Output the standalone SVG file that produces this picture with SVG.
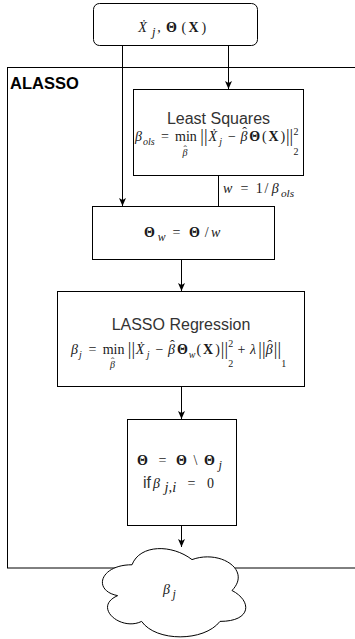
<svg xmlns="http://www.w3.org/2000/svg" width="355" height="639" viewBox="0 0 355 639">
<style>
.box{fill:#fff;stroke:#000;stroke-width:1}
.cont{fill:none;stroke:#000;stroke-width:1}
.edge{stroke:#000;stroke-width:1;fill:none}
.m{font-family:"Liberation Serif","DejaVu Serif",serif;fill:#1a1a1a;font-size:14px}
.i{font-style:italic}
.b{font-weight:bold}
.s{font-size:10px}
.dl{font-size:18px;font-weight:normal;font-style:normal}
.lbl{font-family:"Liberation Sans",Arial,sans-serif;fill:#333;font-size:16px}
</style>
<defs>
<marker id="arr" markerUnits="userSpaceOnUse" markerWidth="8" markerHeight="8" refX="8" refY="4" orient="auto" viewBox="0 0 8 8">
<path d="M0,0.5 L8,4 L0,7.5 L2,4 Z" fill="#000"/>
</marker>
</defs>

<g id="alasso">
<rect class="cont" x="7.5" y="67.5" width="360" height="500.5"/>
<text x="10" y="89" font-family="Liberation Sans,Arial,sans-serif" font-weight="bold" font-size="16.5" fill="#000">ALASSO</text>
</g>

<g id="connectors">
<line class="edge" x1="228.5" y1="45.5" x2="228.5" y2="89" marker-end="url(#arr)"/>
<line class="edge" x1="122.5" y1="45.5" x2="122.5" y2="206" marker-end="url(#arr)"/>
<line class="edge" x1="218.5" y1="175.5" x2="218.5" y2="206.5"/>
<line class="edge" x1="181.5" y1="259.5" x2="181.5" y2="291" marker-end="url(#arr)"/>
<line class="edge" x1="181.5" y1="386.5" x2="181.5" y2="419" marker-end="url(#arr)"/>
<line class="edge" x1="181.5" y1="525.5" x2="181.5" y2="547" marker-end="url(#arr)"/>
<text class="m" font-size="16"><tspan class="i" x="223" y="193">w</tspan><tspan x="240.6" y="193">=</tspan><tspan x="255.8" y="193">1</tspan><tspan x="264.5" y="193">/</tspan><tspan class="i" x="271.8" y="193">β</tspan><tspan class="i" x="280.9" y="196.5" font-size="11.3">ols</tspan></text>
</g>

<g id="input">
<rect class="box" x="93.5" y="3.5" width="164" height="42" rx="6"/>
<text class="m" font-size="17.5"><tspan class="i" x="138.2" y="32">Ẋ</tspan><tspan class="i" x="152.1" y="36" font-size="12.5">j</tspan><tspan x="157.2" y="32">,</tspan><tspan class="b" x="166.1" y="32">Θ</tspan><tspan x="181.5" y="32">(</tspan><tspan class="b" x="188.5" y="32">X</tspan><tspan x="201.5" y="32">)</tspan></text>
</g>

<g id="least-squares">
<rect class="box" x="133.5" y="89.5" width="170" height="86"/>
<text class="lbl" x="218.5" y="123.5" text-anchor="middle">Least Squares</text>
<text class="m"><tspan class="i" x="135" y="141">β</tspan><tspan class="i s" x="143" y="144.5">ols</tspan><tspan x="160.9" y="141">=</tspan><tspan x="175.1" y="141">min</tspan><tspan class="i s" x="182.5" y="156">β</tspan><tspan class="s" x="183.5" y="152.8">ˆ</tspan><tspan class="dl" x="200.3" y="142">||</tspan><tspan class="i" x="208.5" y="141">Ẋ</tspan><tspan class="i s" x="219.2" y="144.5">j</tspan><tspan x="227.9" y="141">−</tspan><tspan class="i" x="240.5" y="141">β</tspan><tspan x="242.3" y="136.5">ˆ</tspan><tspan class="b" x="249.3" y="141">Θ</tspan><tspan x="261.9" y="141">(</tspan><tspan class="b" x="268.4" y="141">X</tspan><tspan x="280.5" y="141">)</tspan><tspan class="dl" x="286" y="142">||</tspan><tspan class="s" x="293.5" y="135">2</tspan><tspan class="s" x="293.5" y="155">2</tspan></text>
</g>

<g id="theta-w">
<rect class="box" x="92.5" y="206.5" width="182" height="53"/>
<text class="m" font-size="16.5"><tspan class="b" x="144" y="237">Θ</tspan><tspan class="i" x="157.75" y="240.5" font-size="11.7">w</tspan><tspan x="172.5" y="237">=</tspan><tspan class="b" x="189.1" y="237">Θ</tspan><tspan x="204.7" y="237">/</tspan><tspan class="i" x="211.1" y="237">w</tspan></text>
</g>

<g id="lasso">
<rect class="box" x="57.5" y="291.5" width="247" height="95"/>
<text class="lbl" x="181" y="330" text-anchor="middle">LASSO Regression</text>
<text class="m"><tspan class="i" x="71" y="354">β</tspan><tspan class="i s" x="79" y="357.5">j</tspan><tspan x="88.5" y="354">=</tspan><tspan x="102.7" y="354">min</tspan><tspan class="i s" x="110" y="368">β</tspan><tspan class="s" x="111" y="364.8">ˆ</tspan><tspan class="dl" x="127.8" y="355">||</tspan><tspan class="i" x="135.8" y="354">Ẋ</tspan><tspan class="i s" x="146.8" y="357.5">j</tspan><tspan x="155.5" y="354">−</tspan><tspan class="i" x="168.1" y="354">β</tspan><tspan x="169.9" y="349.5">ˆ</tspan><tspan class="b" x="176.9" y="354">Θ</tspan><tspan class="i s" x="188.7" y="357.5">w</tspan><tspan x="196.6" y="354">(</tspan><tspan class="b" x="203.1" y="354">X</tspan><tspan x="215.2" y="354">)</tspan><tspan class="dl" x="220.8" y="355">||</tspan><tspan class="s" x="228.2" y="347">2</tspan><tspan class="s" x="228.2" y="367">2</tspan><tspan x="237.4" y="354">+</tspan><tspan class="i" x="250" y="354">λ</tspan><tspan class="dl" x="258.3" y="355">||</tspan><tspan class="i" x="265.8" y="354">β</tspan><tspan x="267.6" y="349.5">ˆ</tspan><tspan class="dl" x="273.8" y="355">||</tspan><tspan class="s" x="281.3" y="367">1</tspan></text>
</g>

<g id="prune">
<rect class="box" x="127.5" y="419.5" width="109" height="106"/>
<text class="m" font-size="17.5"><tspan class="b" x="137" y="465">Θ</tspan><tspan x="158.4" y="465">=</tspan><tspan class="b" x="176" y="465">Θ</tspan><tspan x="193.5" y="465">\</tspan><tspan class="b" x="203.9" y="465">Θ</tspan><tspan class="i" x="218.5" y="469" font-size="12.4">j</tspan></text>
<text class="m" font-size="20.5"><tspan class="lbl" x="143" y="488" font-size="14" font-weight="normal">if</tspan><tspan class="i" x="153" y="488">β</tspan><tspan class="i" x="164.6" y="492" font-size="14.5">j,i</tspan><tspan x="187.5" y="488">=</tspan><tspan x="206.9" y="488">0</tspan></text>
</g>

<g id="result">
<path class="box" d="M 132 564.75 C 100 564.75 92 590.5 117.6 595.65 C 92 606.98 120.8 631.7 141.6 621.4 C 156 642 204 642 220 621.4 C 252 621.4 252 600.8 232 590.5 C 252 569.9 220 549.3 192 559.6 C 172 544.15 140 544.15 132 564.75 Z"/>
<text class="m i" font-size="17"><tspan x="163" y="594">β</tspan><tspan x="172.6" y="598" font-size="12">j</tspan></text>
</g>
</svg>
